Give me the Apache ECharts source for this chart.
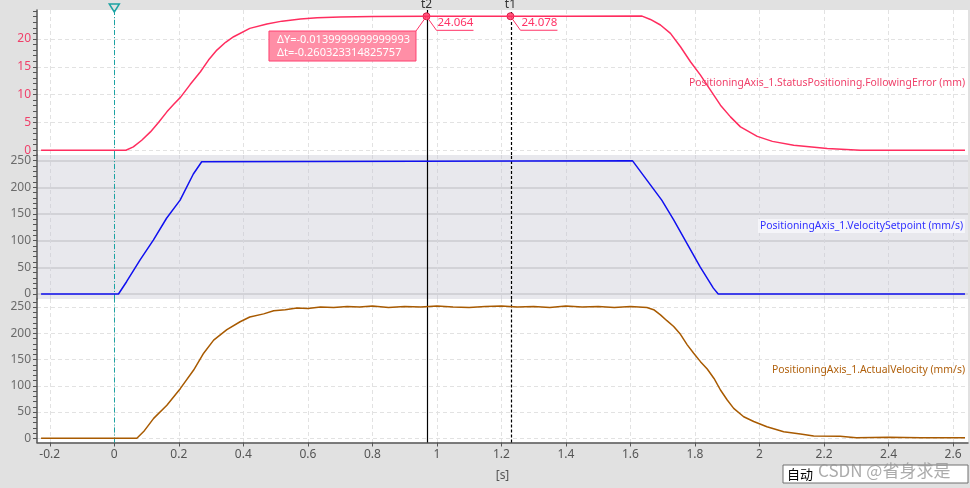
<!DOCTYPE html>
<html><head><meta charset="utf-8">
<script src="https://cdn.jsdelivr.net/npm/echarts@6/dist/echarts.min.js"></script>
<style>html,body{margin:0;padding:0;background:#e1e1e1;}#c{width:970px;height:488px;}</style>
</head><body><div id="c"></div>
<script>
// ---------- data ----------
const xTickValues = [-0.2, 0, 0.2, 0.4, 0.6, 0.8, 1, 1.2, 1.4, 1.6, 1.8, 2, 2.2, 2.4, 2.6];
const feLabelValues = [0, 5, 10, 15, 20];
const feTickValues = [0,1,2,3,4,5,6,7,8,9,10,11,12,13,14,15,16,17,18,19,20,21,22,23,24,25];
const velLabelValues = [0, 50, 100, 150, 200, 250];
const velTickValues = [0,10,20,30,40,50,60,70,80,90,100,110,120,130,140,150,160,170,180,190,200,210,220,230,240,250,260];

const seriesNames = [
  'PositioningAxis_1.StatusPositioning.FollowingError (mm)',
  'PositioningAxis_1.VelocitySetpoint (mm/s)',
  'PositioningAxis_1.ActualVelocity (mm/s)'
];

// Following error (mm)
const feT = [-0.227, 0.036, 0.059, 0.085, 0.112, 0.137, 0.163, 0.185, 0.205, 0.235, 0.267, 0.292, 0.318, 0.345, 0.37, 0.42, 0.473, 0.52, 0.577, 0.629, 0.7, 0.8, 0.9677, 1.1, 1.228, 1.4, 1.636, 1.662, 1.693, 1.724, 1.755, 1.786, 1.817, 1.848, 1.879, 1.91, 1.941, 1.993, 2.04, 2.106, 2.21, 2.313, 2.637];
const feV = [0, 0, 0.6, 1.8, 3.3, 5.0, 6.9, 8.3, 9.5, 11.8, 14.1, 16.2, 18.0, 19.4, 20.4, 21.9, 22.7, 23.2, 23.6, 23.8, 23.95, 24.02, 24.064, 24.07, 24.078, 24.08, 24.1, 23.5, 22.5, 21.0, 18.6, 15.9, 13.5, 10.8, 8.1, 6.0, 4.2, 2.5, 1.6, 0.9, 0.3, 0.0, 0.0];

// Velocity setpoint (mm/s)
const vsT = [-0.227, 0.013, 0.038, 0.08, 0.121, 0.162, 0.204, 0.245, 0.271, 0.276, 1.606, 1.697, 1.734, 1.775, 1.816, 1.857, 1.872, 2.637];
const vsV = [0, 0, 23, 64, 101, 142, 176, 225, 248, 250, 250, 176, 139, 95, 51, 11, 0, 0];

// Actual velocity (mm/s)
const avT = [-0.227, 0.07, 0.091, 0.122, 0.163, 0.205, 0.246, 0.277, 0.308, 0.349, 0.39, 0.42, 0.463, 0.494, 0.53, 0.566, 0.6, 0.639, 0.68, 0.722, 0.76, 0.8, 0.85, 0.9, 0.95, 1.0, 1.05, 1.1, 1.15, 1.2, 1.25, 1.3, 1.35, 1.4, 1.45, 1.5, 1.55, 1.6, 1.651, 1.672, 1.693, 1.713, 1.734, 1.755, 1.776, 1.796, 1.817, 1.838, 1.859, 1.879, 1.9, 1.92, 1.951, 1.982, 2.023, 2.075, 2.127, 2.168, 2.25, 2.3, 2.4, 2.5, 2.637];
const avV = [0, 0, 12.8, 38, 63, 95, 130, 162, 187, 207, 222, 231, 237, 243, 245, 248, 247, 250, 249, 251, 250, 252, 249, 251, 250, 252, 250, 249, 251, 252, 250, 251, 249, 252, 250, 251, 249, 251, 249, 245, 235, 224, 213, 198, 178, 162, 146, 132, 114, 92, 73, 57, 41, 32, 22, 12.6, 8, 4.4, 4, 1.2, 2, 1, 1];

// Cursors
const refCursorT = 0;
const cursorNames = ['t2', 't1'];
const cursorT = [0.9677, 1.228];
const cursorV = [24.064, 24.078];
const deltaLines = ['ΔY=-0.0139999999999993', 'Δt=-0.260323314825757'];

// ---------- chart ----------
const zip = (a, b) => a.map((v, i) => [v, b[i]]);
const FONT = 'Noto Sans';
const COL_FE = '#ff2d5f', COL_VS = '#1010f0', COL_AV = '#a85a00';
const X_MIN = -0.2396, X_MAX = 2.6463;
const Y0 = [-0.85, 25.2], Y1 = [-9.4, 260.6], Y2 = [-8, 265.3];

const chart = echarts.init(document.getElementById('c'));

function xAxisDef(gi, showAxis) {
  return {
    type: 'value', gridIndex: gi, min: X_MIN, max: X_MAX,
    axisLine: { show: showAxis, onZero: false, lineStyle: { color: '#555', width: 1.5 } },
    axisTick: { show: showAxis, customValues: xTickValues, length: 4, lineStyle: { color: '#555' } },
    axisLabel: { show: showAxis, customValues: xTickValues, color: '#555', fontSize: 12, fontFamily: FONT, margin: 6 },
    splitLine: { show: true, lineStyle: { type: [4, 3], color: gi === 1 ? '#d6d6dc' : '#e2e2e2' } },
    name: showAxis ? '[s]' : '', nameLocation: 'middle', nameGap: 27,
    nameTextStyle: { color: '#555', fontSize: 12, fontFamily: FONT }
  };
}
function yAxisMain(gi, ext, ticks, labels, labelColor) {
  return {
    type: 'value', gridIndex: gi, min: ext[0], max: ext[1], position: 'left',
    axisLine: { show: true, onZero: false, lineStyle: { color: '#555', width: 1.5 } },
    axisTick: { show: true, customValues: ticks, length: 4, lineStyle: { color: '#555' } },
    axisLabel: { show: true, customValues: labels, color: labelColor, fontSize: 12, fontFamily: FONT, margin: 6 },
    splitLine: { show: false }
  };
}
function yAxisGrid(gi, ext, labels, style) {
  return {
    type: 'value', gridIndex: gi, min: ext[0], max: ext[1], position: 'left',
    axisLine: { show: false, onZero: false }, axisTick: { show: false, customValues: labels },
    axisLabel: { show: false, customValues: labels },
    splitLine: { show: true, lineStyle: style }
  };
}

const vMarkLines = () => ({
  silent: true, symbol: 'none', animation: false, label: { show: false },
  data: [
    { xAxis: refCursorT, lineStyle: { color: '#1ca3a3', type: [5, 2, 1, 2], width: 1 } },
    { xAxis: cursorT[0], lineStyle: { color: '#000', type: 'solid', width: 1.2 } },
    { xAxis: cursorT[1], lineStyle: { color: '#000', type: [3, 2], width: 1.2 } }
  ]
});

const option = {
  animation: false,
  backgroundColor: '#e1e1e1',
  grid: [
    { left: 37, right: 2, top: 10, height: 145, show: true, backgroundColor: '#ffffff', borderWidth: 0 },
    { left: 37, right: 2, top: 155, height: 144, show: true, backgroundColor: '#e8e8ed', borderWidth: 0 },
    { left: 37, right: 2, top: 299, height: 143.5, show: true, backgroundColor: '#ffffff', borderWidth: 0 }
  ],
  xAxis: [xAxisDef(0, false), xAxisDef(1, false), xAxisDef(2, true)],
  yAxis: [
    yAxisMain(0, Y0, feTickValues, feLabelValues, '#f0406a'),
    yAxisGrid(0, Y0, feLabelValues, { type: [4, 3], color: '#e2e2e2' }),
    yAxisMain(1, Y1, velTickValues, velLabelValues, '#6b6b6b'),
    yAxisGrid(1, Y1, velLabelValues, { type: 'solid', color: '#d2d2d7', width: 2 }),
    yAxisMain(2, Y2, velTickValues, velLabelValues, '#6b6b6b'),
    yAxisGrid(2, Y2, velLabelValues, { type: [4, 3], color: '#e2e2e2' })
  ],
  series: [
    { name: seriesNames[0], type: 'line', xAxisIndex: 0, yAxisIndex: 0, data: zip(feT, feV),
      showSymbol: false, lineStyle: { color: COL_FE, width: 1.5 }, itemStyle: { color: COL_FE }, z: 5,
      markLine: vMarkLines(),
      markPoint: {
        symbol: 'circle', symbolSize: 7, silent: true,
        itemStyle: { color: '#ff5c7e', borderColor: '#d8204c', borderWidth: 1 },
        label: { show: false },
        data: [{ coord: [cursorT[0], cursorV[0]] }, { coord: [cursorT[1], cursorV[1]] },
               { coord: [refCursorT, Y0[1]], symbol: 'triangle', symbolRotate: 180, symbolSize: [10, 8], symbolOffset: [0, -2],
                 itemStyle: { color: 'rgba(0,0,0,0)', borderColor: '#1ca3a3', borderWidth: 1.5 } }]
      }
    },
    { name: seriesNames[1], type: 'line', xAxisIndex: 1, yAxisIndex: 2, data: zip(vsT, vsV),
      showSymbol: false, lineStyle: { color: COL_VS, width: 1.5 }, z: 5, markLine: vMarkLines() },
    { name: seriesNames[2], type: 'line', xAxisIndex: 2, yAxisIndex: 4, data: zip(avT, avV),
      showSymbol: false, lineStyle: { color: COL_AV, width: 1.5 }, z: 5, markLine: vMarkLines() }
  ]
};
chart.setOption(option);

// ---------- annotations anchored to data ----------
const g = [];
cursorT.forEach((t, i) => {
  const p = chart.convertToPixel({ xAxisIndex: 0, yAxisIndex: 0 }, [t, cursorV[i]]);
  const top = chart.convertToPixel({ xAxisIndex: 0, yAxisIndex: 0 }, [t, Y0[1]]);
  g.push({ type: 'text', z: 20, x: top[0], y: top[1] - 5,
           style: { text: cursorNames[i], fill: '#333', font: '12px "' + FONT + '"', align: 'center', verticalAlign: 'middle' } });
  g.push({ type: 'polyline', z: 20, shape: { points: [[p[0], p[1]], [p[0] + 10, p[1] + 14], [p[0] + 47, p[1] + 14]] },
           style: { stroke: '#ff3366', lineWidth: 1, fill: null } });
  g.push({ type: 'text', z: 20, x: p[0] + 11, y: p[1] + 6.5,
           style: { text: cursorV[i].toFixed(3), fill: '#ff3366', font: '11.5px "' + FONT + '"', verticalAlign: 'middle' } });
});
const p2 = chart.convertToPixel({ xAxisIndex: 0, yAxisIndex: 0 }, [cursorT[0], cursorV[0]]);
const bx = p2[0] - 157.5, by = p2[1] + 14.7, bw = 147, bh = 30;
g.push({ type: 'line', z: 20, shape: { x1: bx + bw, y1: by, x2: p2[0], y2: p2[1] }, style: { stroke: '#ff3366', lineWidth: 1 } });
g.push({ type: 'rect', z: 20, shape: { x: bx, y: by, width: bw, height: bh }, style: { fill: '#ff8ea6', stroke: '#ff4070', lineWidth: 1 } });
deltaLines.forEach((s, i) => {
  g.push({ type: 'text', z: 21, x: bx + 8, y: by + 8.6 + i * 13,
           style: { text: s, fill: '#ffffff', font: '11px "' + FONT + '"', verticalAlign: 'middle' } });
});
// series name labels on the right
const nameY = [82.7, 226, 370];
const nameCol = ['#f0406a', '#3030ff', '#b0600c'];
seriesNames.forEach((s, i) => {
  g.push({ type: 'text', z: 15, x: 965, y: nameY[i],
           style: { text: s, fill: nameCol[i], font: '10.4px "' + FONT + '"', align: 'right', verticalAlign: 'middle',
                    backgroundColor: i === 1 ? 'rgba(246,246,250,0.9)' : null, padding: i === 1 ? [2, 2, 2, 2] : 0 } });
});
// bottom-right status box + watermark
g.push({ type: 'rect', z: 30, shape: { x: 783, y: 465, width: 185, height: 18 }, style: { fill: '#ffffff', stroke: '#707070', lineWidth: 1 } });
g.push({ type: 'text', z: 31, x: 787, y: 474.5, style: { text: '自动', fill: '#000', font: '13px "Noto Sans CJK SC"', verticalAlign: 'middle' } });
g.push({ type: 'text', z: 32, x: 818, y: 470.5, style: { text: 'CSDN @省身求是', fill: 'rgba(150,150,150,0.8)', font: '17px "Noto Sans CJK SC"', verticalAlign: 'middle' } });

chart.setOption({ graphic: g });
</script>
</body></html>
